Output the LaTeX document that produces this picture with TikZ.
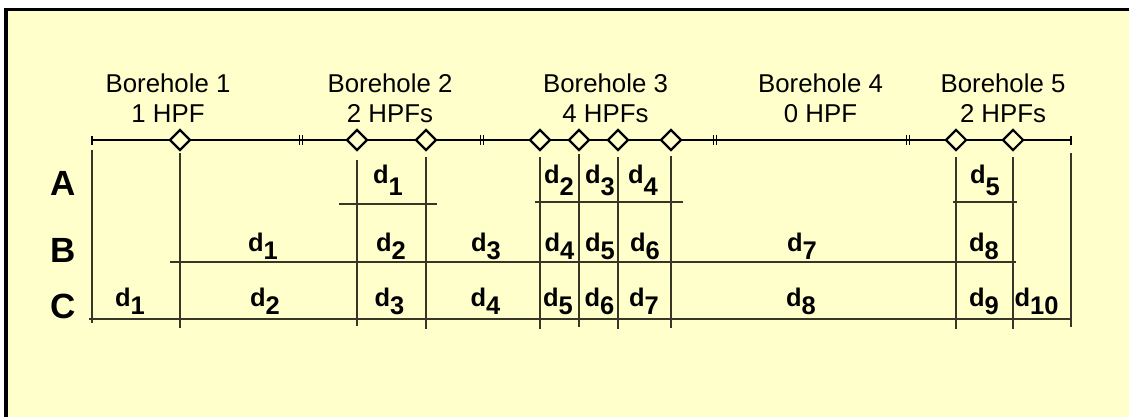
\documentclass[tikz,border=0pt]{standalone}
\usepackage{fontspec}
\setmainfont{Liberation Sans}
\usetikzlibrary{shapes.geometric}
\definecolor{paper}{RGB}{255,255,204}
\definecolor{rule}{RGB}{55,55,40}
% d with a lowered index of the same size
\newcommand\dsub[2]{d\raisebox{-#2pt}{#1}}
\begin{document}
\begin{tikzpicture}[x=1pt,y=-1pt,
  hpf/.style={diamond, draw=black, line width=2.2pt, fill=paper,
    minimum width=21pt, minimum height=21pt, inner sep=0pt},
  title/.style={font=\fontsize{25.8}{29}\selectfont, inner sep=0pt, anchor=base},
  rowname/.style={font=\bfseries\fontsize{35}{35}\selectfont, inner sep=0pt, anchor=base},
  dlab/.style={font=\bfseries\fontsize{25.5}{25.5}\selectfont, inner sep=0pt, anchor=base},
  gridline/.style={draw=rule, line width=1.3pt},
  axisline/.style={draw=black, line width=2pt},
  tick/.style={draw=black, line width=1.5pt}]
\useasboundingbox (0,0) rectangle (1129,417);
\clip (0,0) rectangle (1129,417);
\fill[white] (0,0) rectangle (1129,417);
% panel
\draw[line width=3.5pt, fill=paper] (6,9.5) rectangle (1150,440);

% borehole titles
\foreach \n/\x/\c in {1/168/1 HPF, 2/390/2 HPFs, 3/605.5/4 HPFs, 4/820.5/0 HPF, 5/1003/2 HPFs}{
  \node[title] (bh\n) at (\x,93) {Borehole \n};
  \node[title] (bhc\n) at (\x,122) {\c};
}

% axis with end ticks and breaks
\coordinate (axL) at (92,140);
\coordinate (axR) at (1071,140);
\draw[axisline] (axL) -- (axR);
\draw[tick] (92,136) -- (92,145) (1071,136) -- (1071,145);
\foreach \x in {301,482,715,908}{
  \draw[tick, line width=1.3pt] (\x-1.6,135) -- (\x-1.6,145) (\x+1.6,135) -- (\x+1.6,145);
}

% section boundaries
\foreach \x/\t/\b in {92/150/323, 180/153/328, 357/160/326, 426/157/329,
  540/157/329, 579/154/327, 618/157/329, 671/156/328, 956/157/329,
  1013/157/329, 1071/153/327}{
  \draw[gridline] (\x,\t) -- (\x,\b);
}

% HPF positions
\foreach \i/\x in {1/180, 2/357, 3/426, 4/540, 5/579, 6/618, 7/671, 8/956, 9/1013}{
  \node[hpf] (hpf\i) at (\x,140) {};
}

% row rules
\draw[gridline] (339,204) -- (437,204);
\draw[gridline] (535,202) -- (683,202);
\draw[gridline] (953,202) -- (1017,202);
\draw[gridline] (170,262) -- (1016,262);
\draw[gridline] (89,319) -- (1071,319);

% row names
\node[rowname] (rowA) at (63.5,195) {A};
\node[rowname] (rowB) at (63.5,262) {B};
\node[rowname] (rowC) at (63.5,318) {C};

% row A labels
\foreach \i/\x in {1/388, 2/559, 3/600, 4/643, 5/985}{
  \node[dlab] (a\i) at (\x,183.5) {\dsub{\i}{12}};
}
% row B labels
\foreach \i/\x in {1/263, 2/391, 3/486, 4/559.5, 5/600, 6/645, 7/802, 8/984}{
  \node[dlab] (b\i) at (\x,251) {\dsub{\i}{8}};
}
% row C labels
\foreach \i/\x in {1/130, 2/265, 3/389.5, 4/485.5, 5/558, 6/599.5, 7/644, 8/801, 9/984, 10/1036.5}{
  \node[dlab] (c\i) at (\x,306.5) {\dsub{\i}{8}};
}
\end{tikzpicture}
\end{document}
